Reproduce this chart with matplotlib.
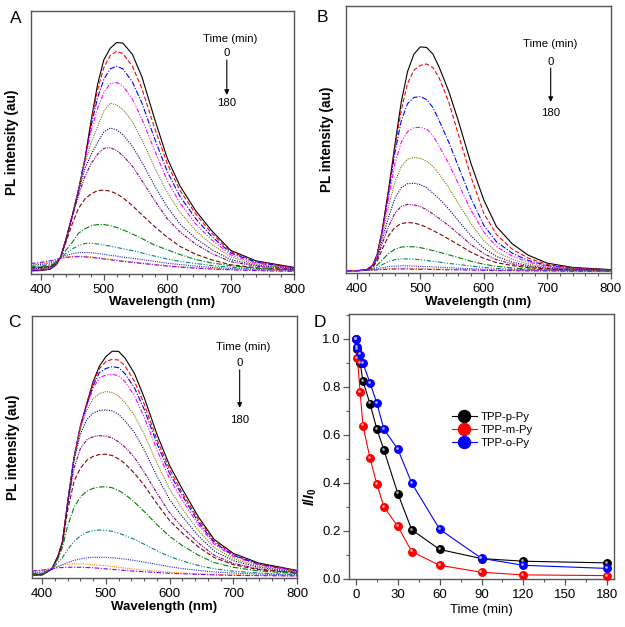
import matplotlib
matplotlib.use("Agg")
import matplotlib.pyplot as plt
import matplotlib.transforms as mtransforms
from matplotlib.ticker import MultipleLocator

plt.rcParams['font.family'] = ['Liberation Sans', 'DejaVu Sans']
plt.rcParams['mathtext.fontset'] = 'custom'
plt.rcParams['mathtext.it'] = 'Liberation Sans:italic:bold'
plt.rcParams['mathtext.rm'] = 'Liberation Sans:bold'
plt.rcParams['mathtext.bf'] = 'Liberation Sans:bold'

# wavelength grid (nm) the spectra were read at
wavelength = [385, 400, 415, 425, 432, 440, 450, 460, 470, 480, 490, 500, 510,
              520, 530, 545, 560, 580, 600, 620, 645, 670, 700, 740, 800]
# irradiation times (min), one spectrum per time
times = [0, 1, 3, 5, 10, 15, 20, 30, 40, 60, 90, 120, 180]

# panel A: TPP-p-Py spectra (arbitrary units, 0..1 of the axis)
spec_a = [
    [0.012, 0.013, 0.018, 0.035, 0.065, 0.13, 0.22, 0.32, 0.435, 0.585, 0.72, 0.815, 0.858, 0.88, 0.878, 0.835, 0.75, 0.59, 0.44, 0.335, 0.24, 0.165, 0.09, 0.05, 0.025],
    [0.013, 0.014, 0.019, 0.036, 0.065, 0.13, 0.22, 0.32, 0.435, 0.58, 0.70, 0.785, 0.83, 0.847, 0.838, 0.79, 0.705, 0.555, 0.42, 0.318, 0.228, 0.155, 0.085, 0.047, 0.024],
    [0.014, 0.015, 0.02, 0.037, 0.065, 0.13, 0.22, 0.32, 0.435, 0.565, 0.67, 0.74, 0.78, 0.79, 0.78, 0.73, 0.65, 0.515, 0.39, 0.295, 0.21, 0.143, 0.08, 0.045, 0.023],
    [0.016, 0.017, 0.021, 0.038, 0.065, 0.13, 0.22, 0.32, 0.43, 0.545, 0.63, 0.69, 0.725, 0.728, 0.715, 0.665, 0.59, 0.47, 0.355, 0.27, 0.19, 0.13, 0.073, 0.041, 0.022],
    [0.018, 0.019, 0.023, 0.039, 0.065, 0.13, 0.22, 0.32, 0.42, 0.50, 0.56, 0.62, 0.649, 0.643, 0.625, 0.58, 0.51, 0.405, 0.31, 0.235, 0.165, 0.113, 0.065, 0.037, 0.021],
    [0.02, 0.021, 0.025, 0.04, 0.065, 0.13, 0.22, 0.31, 0.40, 0.455, 0.50, 0.54, 0.555, 0.548, 0.53, 0.485, 0.425, 0.335, 0.255, 0.19, 0.135, 0.093, 0.055, 0.033, 0.02],
    [0.022, 0.023, 0.027, 0.041, 0.065, 0.13, 0.215, 0.30, 0.37, 0.42, 0.455, 0.478, 0.48, 0.47, 0.45, 0.41, 0.355, 0.28, 0.21, 0.16, 0.113, 0.078, 0.047, 0.03, 0.018],
    [0.024, 0.025, 0.029, 0.042, 0.065, 0.12, 0.19, 0.25, 0.285, 0.305, 0.317, 0.319, 0.315, 0.305, 0.29, 0.26, 0.225, 0.18, 0.14, 0.105, 0.075, 0.054, 0.035, 0.024, 0.016],
    [0.027, 0.028, 0.032, 0.043, 0.064, 0.09, 0.12, 0.155, 0.172, 0.183, 0.188, 0.188, 0.184, 0.177, 0.168, 0.152, 0.135, 0.11, 0.092, 0.074, 0.055, 0.042, 0.032, 0.022, 0.015],
    [0.03, 0.031, 0.036, 0.046, 0.062, 0.078, 0.095, 0.108, 0.116, 0.117, 0.114, 0.11, 0.106, 0.101, 0.096, 0.089, 0.08, 0.068, 0.057, 0.048, 0.04, 0.032, 0.026, 0.02, 0.014],
    [0.034, 0.036, 0.042, 0.05, 0.062, 0.07, 0.077, 0.081, 0.082, 0.081, 0.078, 0.075, 0.071, 0.068, 0.064, 0.06, 0.055, 0.048, 0.041, 0.036, 0.03, 0.025, 0.021, 0.017, 0.013],
    [0.037, 0.04, 0.046, 0.053, 0.06, 0.064, 0.067, 0.068, 0.067, 0.065, 0.062, 0.059, 0.056, 0.053, 0.05, 0.046, 0.042, 0.037, 0.032, 0.028, 0.024, 0.02, 0.017, 0.014, 0.011],
    [0.04, 0.044, 0.05, 0.056, 0.06, 0.063, 0.065, 0.066, 0.065, 0.063, 0.06, 0.057, 0.054, 0.051, 0.048, 0.044, 0.04, 0.035, 0.03, 0.026, 0.022, 0.019, 0.016, 0.013, 0.01],
]

# panel B: TPP-m-Py spectra
spec_b = [
    [0.01, 0.01, 0.012, 0.03, 0.07, 0.16, 0.31, 0.48, 0.64, 0.755, 0.82, 0.847, 0.845, 0.82, 0.77, 0.68, 0.57, 0.41, 0.275, 0.175, 0.11, 0.068, 0.038, 0.022, 0.014],
    [0.01, 0.01, 0.012, 0.03, 0.07, 0.16, 0.31, 0.47, 0.61, 0.71, 0.76, 0.778, 0.783, 0.77, 0.73, 0.64, 0.52, 0.36, 0.225, 0.145, 0.09, 0.057, 0.033, 0.02, 0.013],
    [0.01, 0.01, 0.012, 0.03, 0.068, 0.155, 0.30, 0.45, 0.57, 0.635, 0.658, 0.661, 0.65, 0.62, 0.57, 0.49, 0.40, 0.28, 0.18, 0.118, 0.075, 0.048, 0.029, 0.018, 0.012],
    [0.01, 0.01, 0.012, 0.03, 0.066, 0.15, 0.28, 0.41, 0.49, 0.53, 0.545, 0.546, 0.54, 0.515, 0.475, 0.41, 0.335, 0.235, 0.155, 0.1, 0.064, 0.042, 0.026, 0.017, 0.012],
    [0.01, 0.01, 0.012, 0.028, 0.062, 0.14, 0.25, 0.34, 0.40, 0.427, 0.433, 0.43, 0.42, 0.40, 0.37, 0.32, 0.262, 0.185, 0.122, 0.08, 0.052, 0.035, 0.023, 0.016, 0.011],
    [0.01, 0.01, 0.012, 0.027, 0.058, 0.125, 0.21, 0.28, 0.32, 0.335, 0.337, 0.332, 0.32, 0.30, 0.278, 0.24, 0.197, 0.14, 0.094, 0.063, 0.042, 0.029, 0.02, 0.014, 0.011],
    [0.01, 0.01, 0.012, 0.025, 0.052, 0.11, 0.175, 0.225, 0.25, 0.258, 0.256, 0.25, 0.238, 0.222, 0.205, 0.178, 0.148, 0.107, 0.074, 0.051, 0.035, 0.025, 0.018, 0.013, 0.01],
    [0.01, 0.01, 0.012, 0.023, 0.045, 0.09, 0.14, 0.172, 0.186, 0.19, 0.188, 0.182, 0.172, 0.16, 0.148, 0.128, 0.107, 0.079, 0.056, 0.04, 0.029, 0.021, 0.016, 0.012, 0.01],
    [0.01, 0.01, 0.011, 0.018, 0.03, 0.05, 0.074, 0.09, 0.098, 0.1, 0.099, 0.096, 0.091, 0.085, 0.079, 0.069, 0.059, 0.045, 0.034, 0.026, 0.02, 0.016, 0.013, 0.011, 0.009],
    [0.01, 0.01, 0.011, 0.015, 0.022, 0.032, 0.044, 0.051, 0.054, 0.054, 0.053, 0.051, 0.048, 0.045, 0.042, 0.037, 0.033, 0.027, 0.022, 0.018, 0.015, 0.013, 0.011, 0.01, 0.009],
    [0.01, 0.01, 0.011, 0.013, 0.017, 0.021, 0.025, 0.027, 0.028, 0.028, 0.027, 0.026, 0.025, 0.024, 0.023, 0.021, 0.019, 0.017, 0.015, 0.013, 0.012, 0.011, 0.01, 0.009, 0.008],
    [0.01, 0.01, 0.011, 0.012, 0.014, 0.016, 0.018, 0.019, 0.019, 0.019, 0.018, 0.018, 0.017, 0.016, 0.016, 0.015, 0.014, 0.013, 0.012, 0.011, 0.01, 0.01, 0.009, 0.008, 0.008],
    [0.01, 0.01, 0.011, 0.012, 0.013, 0.014, 0.015, 0.016, 0.016, 0.016, 0.015, 0.015, 0.015, 0.014, 0.014, 0.013, 0.013, 0.012, 0.011, 0.01, 0.01, 0.009, 0.009, 0.008, 0.008],
]

# panel C: TPP-o-Py spectra
spec_c = [
    [0.012, 0.013, 0.035, 0.085, 0.14, 0.29, 0.46, 0.58, 0.667, 0.75, 0.81, 0.845, 0.866, 0.865, 0.84, 0.78, 0.69, 0.55, 0.43, 0.34, 0.235, 0.148, 0.095, 0.058, 0.03],
    [0.012, 0.013, 0.035, 0.085, 0.14, 0.29, 0.46, 0.58, 0.665, 0.745, 0.80, 0.826, 0.835, 0.832, 0.81, 0.75, 0.665, 0.53, 0.415, 0.325, 0.225, 0.142, 0.09, 0.055, 0.029],
    [0.012, 0.013, 0.035, 0.085, 0.14, 0.29, 0.46, 0.58, 0.66, 0.735, 0.785, 0.80, 0.807, 0.803, 0.78, 0.725, 0.645, 0.515, 0.40, 0.315, 0.215, 0.136, 0.087, 0.053, 0.028],
    [0.013, 0.014, 0.035, 0.085, 0.14, 0.29, 0.46, 0.58, 0.655, 0.725, 0.765, 0.775, 0.778, 0.772, 0.75, 0.695, 0.615, 0.49, 0.38, 0.298, 0.205, 0.13, 0.083, 0.051, 0.027],
    [0.013, 0.014, 0.035, 0.085, 0.14, 0.29, 0.455, 0.57, 0.64, 0.685, 0.705, 0.712, 0.708, 0.695, 0.67, 0.62, 0.55, 0.44, 0.34, 0.265, 0.183, 0.117, 0.075, 0.046, 0.025],
    [0.014, 0.015, 0.035, 0.085, 0.14, 0.285, 0.45, 0.55, 0.605, 0.63, 0.64, 0.642, 0.638, 0.625, 0.60, 0.555, 0.49, 0.39, 0.30, 0.235, 0.162, 0.104, 0.067, 0.042, 0.023],
    [0.014, 0.015, 0.035, 0.085, 0.14, 0.28, 0.42, 0.495, 0.528, 0.54, 0.544, 0.542, 0.535, 0.52, 0.50, 0.46, 0.405, 0.325, 0.25, 0.195, 0.135, 0.088, 0.057, 0.036, 0.021],
    [0.015, 0.016, 0.035, 0.083, 0.135, 0.26, 0.37, 0.42, 0.45, 0.465, 0.472, 0.473, 0.468, 0.455, 0.437, 0.40, 0.355, 0.285, 0.22, 0.172, 0.12, 0.079, 0.052, 0.033, 0.02],
    [0.016, 0.017, 0.035, 0.075, 0.12, 0.2, 0.27, 0.31, 0.332, 0.343, 0.348, 0.349, 0.345, 0.335, 0.32, 0.29, 0.255, 0.205, 0.16, 0.125, 0.088, 0.06, 0.042, 0.028, 0.018],
    [0.018, 0.02, 0.035, 0.06, 0.08, 0.11, 0.14, 0.162, 0.175, 0.182, 0.184, 0.183, 0.179, 0.172, 0.163, 0.148, 0.13, 0.105, 0.083, 0.066, 0.049, 0.036, 0.027, 0.02, 0.014],
    [0.022, 0.024, 0.033, 0.045, 0.052, 0.06, 0.068, 0.074, 0.078, 0.08, 0.08, 0.08, 0.078, 0.076, 0.073, 0.068, 0.062, 0.053, 0.044, 0.037, 0.03, 0.024, 0.02, 0.016, 0.012],
    [0.026, 0.029, 0.038, 0.046, 0.05, 0.053, 0.055, 0.055, 0.054, 0.052, 0.05, 0.048, 0.045, 0.042, 0.039, 0.035, 0.031, 0.027, 0.023, 0.02, 0.017, 0.015, 0.013, 0.011, 0.009],
    [0.028, 0.031, 0.037, 0.04, 0.041, 0.042, 0.042, 0.042, 0.041, 0.04, 0.038, 0.036, 0.034, 0.032, 0.03, 0.027, 0.025, 0.022, 0.019, 0.017, 0.015, 0.013, 0.011, 0.01, 0.009],
]

# panel D: relative peak intensity I/I0 versus time
series_names = ['TPP-p-Py', 'TPP-m-Py', 'TPP-o-Py']
ratio_p_py = [1.0, 0.958, 0.899, 0.825, 0.731, 0.624, 0.538, 0.356, 0.205, 0.123, 0.085, 0.074, 0.067]
ratio_m_py = [1.0, 0.92, 0.777, 0.639, 0.505, 0.394, 0.301, 0.219, 0.114, 0.057, 0.028, 0.017, 0.014]
ratio_o_py = [1.0, 0.968, 0.935, 0.899, 0.818, 0.732, 0.624, 0.541, 0.399, 0.207, 0.086, 0.057, 0.044]

# Origin-like line colours and dash patterns for the 13 spectra
line_colors = ['#000000', '#ff0000', '#0000ff', '#ff00ff', '#808000', '#000080',
               '#800080', '#800000', '#008000', '#008080', '#3030d0', '#ff8000', '#8000ff']
line_styles = ['-', (0, (4, 2)), (0, (5, 1.5, 1, 1.5)), (0, (4, 1.5, 1, 1.5, 1, 1.5)),
               (0, (1, 1)), (0, (1, 1.2)), (0, (3, 1, 1, 1, 1, 1)), (0, (4, 2)),
               (0, (5, 1.5, 1, 1.5)), (0, (4, 1.5, 1, 1.5, 1, 1.5)), (0, (1, 1)),
               (0, (1, 1)), (0, (4, 1.5, 1, 1.5))]

spine_color = '#555555'

fig = plt.figure(figsize=(6.25, 6.27), dpi=100)
ax_a = fig.add_axes([0.0496, 0.563, 0.4208, 0.4195])
ax_b = fig.add_axes([0.5536, 0.5641, 0.4235, 0.4263])
ax_c = fig.add_axes([0.0512, 0.0777, 0.424, 0.4183])
ax_d = fig.add_axes([0.5584, 0.0766, 0.424, 0.4226])


def style_frame(ax):
    for sp in ax.spines.values():
        sp.set_color(spine_color)
        sp.set_linewidth(1.0)
    ax.tick_params(which='both', direction='out', color=spine_color, labelsize=9.5,
                   top=False, right=False, pad=2.5)
    ax.tick_params(which='major', length=4.5, width=0.9)
    ax.tick_params(which='minor', length=2.5, width=0.8)


def spectra_panel(ax, spec, xmin, note):
    for row, c, ls in zip(spec, line_colors, line_styles):
        ax.plot(wavelength, row, color=c, ls=ls, lw=0.8)
    ax.set_xlim(xmin, 800)
    ax.set_ylim(0, 1)
    ax.set_yticks([])
    ax.xaxis.set_major_locator(MultipleLocator(100))
    ax.xaxis.set_minor_locator(MultipleLocator(20))
    style_frame(ax)
    ax.set_xlabel('Wavelength (nm)', fontsize=9.5, fontweight='bold')
    ax.xaxis.set_label_coords(0.5, -0.085)
    ax.set_ylabel('PL intensity (au)', fontsize=9.8, fontweight='bold')
    ax.yaxis.set_label_coords(-0.045, 0.5)
    # "Time (min)" note with arrow 0 -> 180
    tx, ty, ax_x, y0, ya1, ya2, y180 = note
    ax.text(tx, ty, 'Time (min)', ha='center', va='center', fontsize=8.2)
    ax.text(ax_x, y0, '0', ha='center', va='center', fontsize=8.2)
    ax.annotate('', xy=(ax_x, ya2), xytext=(ax_x, ya1),
                arrowprops=dict(arrowstyle='-|>', color='k', lw=0.8,
                                mutation_scale=7, shrinkA=0, shrinkB=0))
    ax.text(ax_x, y180, '180', ha='center', va='center', fontsize=8.2)


spectra_panel(ax_a, spec_a, 385, (699, 0.894, 694, 0.839, 0.814, 0.681, 0.649))
spectra_panel(ax_b, spec_b, 383, (705, 0.858, 705.5, 0.792, 0.768, 0.641, 0.60))
spectra_panel(ax_c, spec_c, 384, (716, 0.88, 710, 0.82, 0.795, 0.65, 0.603))

# panel D
d_colors = ['#000000', '#ff0000', '#0000ff']
d_light = ['#b0b0b0', '#ffb0b0', '#b0b0ff']
shine = ax_d.transData + mtransforms.ScaledTranslation(-0.8 / 72, 0.8 / 72, fig.dpi_scale_trans)
handles = []
for vals, name, c, lc in zip([ratio_p_py, ratio_m_py, ratio_o_py], series_names, d_colors, d_light):
    h, = ax_d.plot(times, vals, color=c, lw=0.8, marker='o', ms=5.4, mec=c, mfc=c,
                   label=name, clip_on=False, zorder=3)
    ax_d.plot(times, vals, ls='none', marker='o', ms=1.9, mec='none', mfc=lc,
              transform=shine, clip_on=False, zorder=3.5)
    handles.append(h)

ax_d.set_xlim(-5, 185)
ax_d.set_ylim(0, 1.104)
ax_d.xaxis.set_major_locator(MultipleLocator(30))
ax_d.xaxis.set_minor_locator(MultipleLocator(15))
ax_d.yaxis.set_major_locator(MultipleLocator(0.2))
ax_d.yaxis.set_minor_locator(MultipleLocator(0.1))
ax_d.yaxis.set_major_formatter(plt.FormatStrFormatter('%.1f'))
style_frame(ax_d)
ax_d.tick_params(axis='y', pad=1.5)
ax_d.set_xlabel('Time (min)', fontsize=9.5)
ax_d.xaxis.set_label_coords(0.5, -0.095)
ax_d.set_ylabel(r'$I/I_0$', fontsize=10)
ax_d.yaxis.set_label_coords(-0.115, 0.31)
ax_d.legend(handles=handles, loc='center', bbox_to_anchor=(0.54, 0.562), frameon=False,
            fontsize=8.2, markerscale=1.6, handlelength=2.2, handletextpad=0.3,
            labelspacing=0.25, borderpad=0.2)

# panel letters
for lbl, x, y in [('A', 0.0256, 0.9697), ('B', 0.516, 0.972), ('C', 0.0224, 0.4856), ('D', 0.512, 0.4856)]:
    fig.text(x, y, lbl, ha='center', va='center', fontsize=12.5)

fig.savefig('out.png', dpi=100)
